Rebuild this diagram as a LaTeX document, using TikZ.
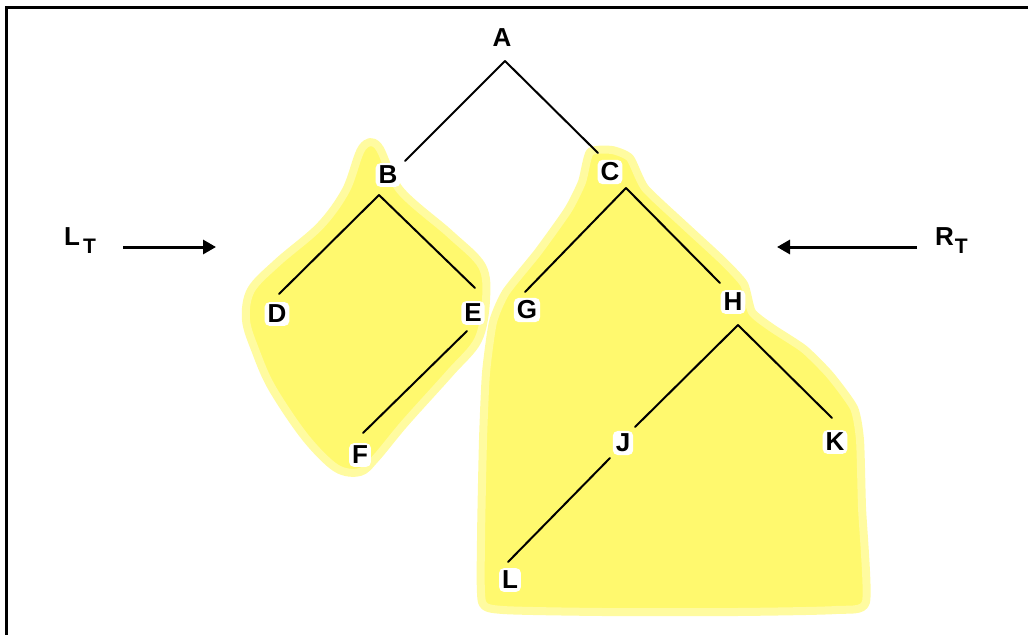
\documentclass[tikz,border=0pt]{standalone}
\usepackage{fontspec}
\setmainfont{Liberation Sans}
\usetikzlibrary{arrows.meta}
\definecolor{blobcore}{RGB}{255,249,110}
\definecolor{blobhalo}{RGB}{255,251,160}
\tikzset{
  letter/.style={font=\fontsize{26}{26}\selectfont\bfseries, fill=white, inner sep=3pt, rounded corners=5pt},
  edge/.style={line width=2pt, line cap=round},
  pointer/.style={line width=3pt, -{Triangle[length=13pt,width=14pt]}},
  blob/.style={fill=blobcore, draw=blobhalo, line width=8pt, line join=round},
  frameline/.style={line width=3.5pt}
}
\begin{document}
\begin{tikzpicture}[x=1pt,y=-1pt]
\useasboundingbox (0,0) rectangle (1028,635);
% frame (top and left sides visible)
\draw[frameline] (1028,7.5) -- (6.5,7.5) -- (6.5,635);
% yellow highlight blobs
\path[blob] plot[smooth cycle, tension=0.55] coordinates {
  (362,148) (378,146) (400,190) (450,234) (482,266) (486,300) (478,340)
  (450,373) (405,423) (376,458) (360,472) (336,468) (305,437) (272,388)
  (256,352) (246,320) (251,290) (278,262) (320,226) (346,190)};
\path[blob] plot[smooth cycle, tension=0.35] coordinates {
  (590,152) (612,150) (630,158) (645,188) (683,224) (722,260) (744,284)
  (752,312) (772,328) (804,349) (830,375) (854,408) (860,440) (862,507)
  (866,602) (836,610) (737,612) (603,612) (503,610) (482,602) (481,540)
  (483,440) (486,373) (493,322) (506,292) (538,252) (568,210) (582,182)};
% nodes
\node[letter] (A) at (502,38) {A};
\node[letter] (B) at (388,175) {B};
\node[letter] (C) at (610,172) {C};
\node[letter] (D) at (277,314) {D};
\node[letter] (E) at (473,313) {E};
\node[letter] (G) at (527,310) {G};
\node[letter] (H) at (733,302) {H};
\node[letter] (F) at (360,455) {F};
\node[letter] (J) at (623,443) {J};
\node[letter] (K) at (835,442) {K};
\node[letter] (L) at (510,580) {L};
% edges
\draw[edge] ([shift={(3,23)}]A.center) -- ([shift={(17,-14)}]B.center);
\draw[edge] ([shift={(3,23)}]A.center) -- ([shift={(-12,-19)}]C.center);
\draw[edge] ([shift={(-9,20)}]B.center) -- ([shift={(2,-20)}]D.center);
\draw[edge] ([shift={(-9,20)}]B.center) -- ([shift={(2,-25)}]E.center);
\draw[edge] ([shift={(-6,18)}]E.center) -- ([shift={(3,-22)}]F.center);
\draw[edge] ([shift={(16,16)}]C.center) -- ([shift={(-2,-18)}]G.center);
\draw[edge] ([shift={(16,16)}]C.center) -- ([shift={(-13,-19)}]H.center);
\draw[edge] ([shift={(5,23)}]H.center) -- ([shift={(12,-16)}]J.center);
\draw[edge] ([shift={(5,23)}]H.center) -- ([shift={(-3,-24)}]K.center);
\draw[edge] ([shift={(-13,15)}]J.center) -- ([shift={(-2,-18)}]L.center);
% side labels and arrows
\node[anchor=base west, inner sep=0pt, font=\fontsize{26}{26}\selectfont\bfseries] (LT) at (64,245)
  {L\hspace{3pt}\raisebox{-8pt}{\fontsize{21}{21}\selectfont T}};
\node[anchor=base west, inner sep=0pt, font=\fontsize{26}{26}\selectfont\bfseries] (RT) at (935,245)
  {R\hspace{1pt}\raisebox{-8pt}{\fontsize{21}{21}\selectfont T}};
\coordinate (LTa) at (123,247);
\coordinate (LTb) at (216,247);
\coordinate (RTa) at (917,247);
\coordinate (RTb) at (777,247);
\draw[pointer] (LTa) -- (LTb);
\draw[pointer] (RTa) -- (RTb);
\end{tikzpicture}
\end{document}
